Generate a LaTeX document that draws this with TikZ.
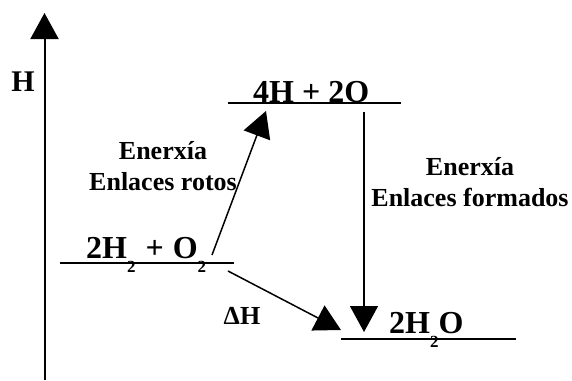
\documentclass[tikz,border=0pt]{standalone}
\usepackage{fontspec}
\setmainfont{Liberation Serif}
\usetikzlibrary{arrows.meta}
\newcommand\chsub[1]{\raisebox{-14pt}{\fontsize{17}{17}\bfseries\selectfont #1}}
\begin{document}
\begin{tikzpicture}[x=1pt,y=-1pt,
  lvl/.style={line width=1.5pt},
  arr/.style={line width=1.5pt,-{Triangle[length=26pt,width=28pt]}},
  axis/.style={line width=2pt,-{Triangle[length=26pt,width=28pt]}},
  chem/.style={font=\fontsize{32}{32}\bfseries\selectfont,inner sep=0pt},
  lbl/.style={font=\fontsize{26}{31}\bfseries\selectfont,align=center,inner sep=0pt}]
\useasboundingbox (0,0) rectangle (572,380);
% axis
\coordinate (ax0) at (44.5,380);
\coordinate (ax1) at (44.5,13);
\draw[axis] (ax0) -- (ax1);
\node[chem,font=\fontsize{30}{30}\bfseries\selectfont] (hl) at (23,82) {H};
% levels
\coordinate (t1) at (228,103); \coordinate (t2) at (401,103);
\coordinate (l1) at (60,263);  \coordinate (l2) at (234,263);
\coordinate (r1) at (341,339); \coordinate (r2) at (516,339);
\draw[lvl] (t1) -- (t2);
\draw[lvl] (l1) -- (l2);
\draw[lvl] (r1) -- (r2);
% species
\node[chem,anchor=base west] (top) at (253,102) {4H + 2O};
\node[chem,anchor=base west] (react) at (86,258) {2H\chsub{2}\hspace{2pt} + \hspace{1pt}O\chsub{2}};
\node[chem,anchor=base west] (prod) at (389,333) {2H\chsub{2}O};
% labels
\node[lbl] (dh) at (242,316) {ΔH};
\node[lbl] (e1) at (163,166) {Enerxía\\Enlaces rotos};
\node[lbl] (e2) at (470,182) {Enerxía\\Enlaces formados};
% arrows
\coordinate (a1s) at (212,255); \coordinate (a1e) at (266,111);
\coordinate (d1s) at (364,112); \coordinate (d1e) at (364,332);
\coordinate (h1s) at (228,271); \coordinate (h1e) at (341,330);
\draw[arr] (a1s) -- (a1e);
\draw[arr] (d1s) -- (d1e);
\draw[arr] (h1s) -- (h1e);
\end{tikzpicture}
\end{document}
